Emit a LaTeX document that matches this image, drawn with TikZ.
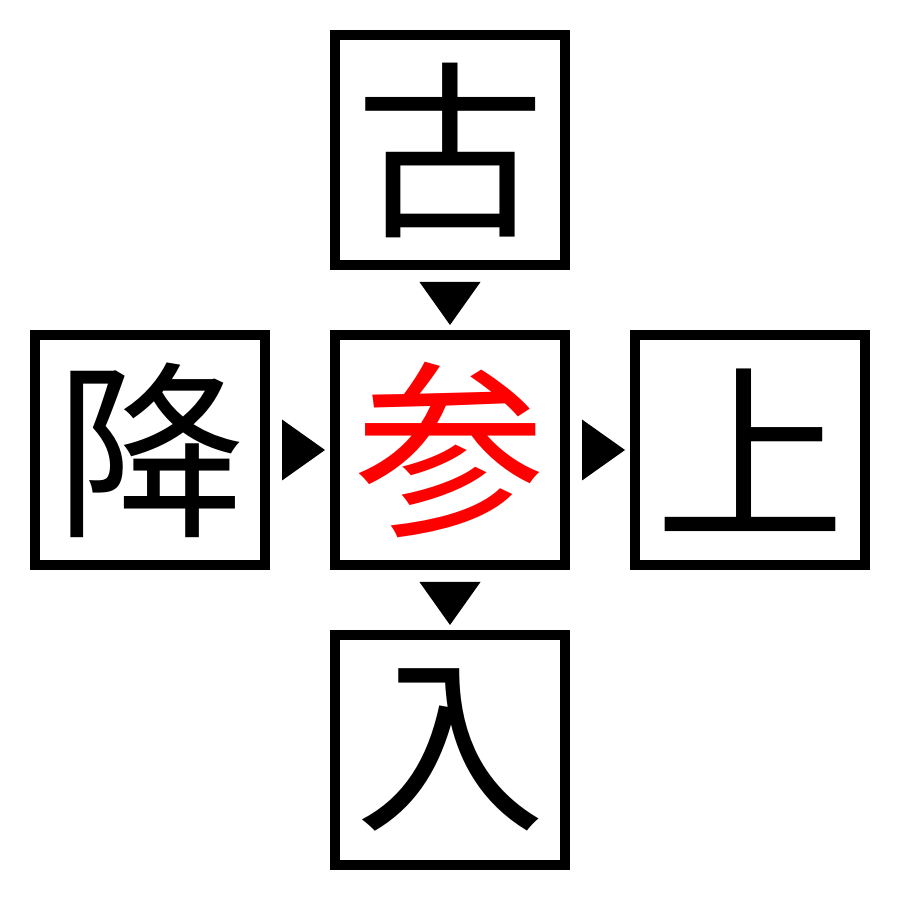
\documentclass[tikz,border=0pt]{standalone}
\usepackage{fontspec}
\newfontfamily\cjk{Noto Sans CJK JP}
\usepackage{tikz}
\usetikzlibrary{positioning}

\tikzset{
    box/.style={draw, line width=1mm, minimum size=23mm, inner sep=0pt,
        font=\cjk\fontsize{54}{54}\selectfont},
    tri/.pic={\fill (0.12,0.305) -- (0.55,0) -- (0.12,-0.305) -- cycle;}
}

\begin{document}
\begin{tikzpicture}
    \useasboundingbox (0,0) rectangle (9,9);
    \node[box, text=red] (can) at (4.5,4.5) {参};
    \node[box, above=0.6cm of can] (gu) {古};
    \node[box, left=0.6cm of can] (jiang) {降};
    \node[box, right=0.6cm of can] (shang) {上};
    \node[box, below=0.6cm of can] (ru) {入};
    % triangles between the boxes
    \pic at (jiang.east) {tri};
    \pic at (can.east) {tri};
    \pic[rotate=-90] at (gu.south) {tri};
    \pic[rotate=-90] at (can.south) {tri};
\end{tikzpicture}
\end{document}
